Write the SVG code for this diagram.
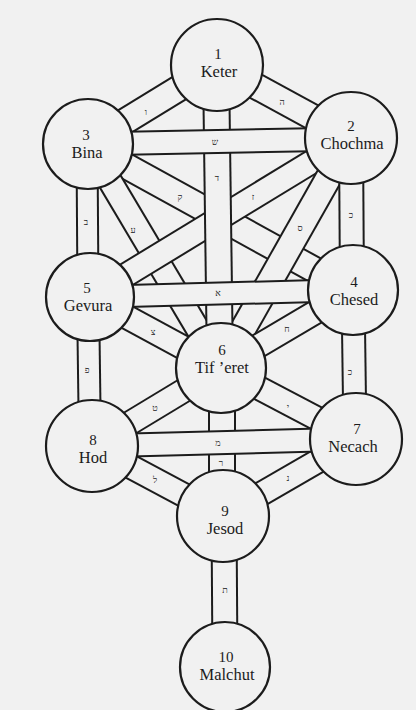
<svg xmlns="http://www.w3.org/2000/svg" width="416" height="710" viewBox="0 0 416 710">
<style>
.bg{fill:#f1f1f1}
.o{stroke:#1c1c1c;stroke-linecap:butt}
.i{stroke:#f1f1f1;stroke-linecap:butt}
.node circle{fill:#f1f1f1;stroke:#1c1c1c;stroke-width:2.2}
.node text{font-family:"Liberation Serif","Times New Roman",serif;fill:#1c1c1c;text-anchor:middle}
.num{font-size:15px}
.nm{font-size:16.5px}
.lb{font-family:"Liberation Serif","DejaVu Sans",serif;font-size:9px;fill:#222;text-anchor:middle}
</style>
<rect class="bg" x="0" y="0" width="416" height="710"/>
<g id="connectors">
  <g id="p-qof"><line class="o" x1="88" y1="145" x2="353" y2="291" stroke-width="28"/><line class="i" x1="88" y1="145" x2="353" y2="291" stroke-width="24"/></g>
  <g id="p-ayin"><line class="o" x1="88" y1="144" x2="221" y2="368" stroke-width="26"/><line class="i" x1="88" y1="144" x2="221" y2="368" stroke-width="22"/></g>
  <g id="p-zayin"><line class="o" x1="351" y1="138" x2="90" y2="297" stroke-width="26"/><line class="i" x1="351" y1="138" x2="90" y2="297" stroke-width="22"/></g>
  <g id="p-samekh"><line class="o" x1="351" y1="138" x2="221" y2="368" stroke-width="28"/><line class="i" x1="351" y1="138" x2="221" y2="368" stroke-width="24"/></g>
  <g id="p-dalet"><line class="o" x1="216" y1="65" x2="220" y2="368" stroke-width="28"/><line class="i" x1="216" y1="65" x2="220" y2="368" stroke-width="24"/></g>
  <g id="p-resh"><line class="o" x1="222" y1="368" x2="222" y2="516" stroke-width="28"/><line class="i" x1="222" y1="368" x2="222" y2="516" stroke-width="24"/></g>
  <g id="p-vav"><line class="o" x1="217" y1="65" x2="88" y2="144" stroke-width="28"/><line class="i" x1="217" y1="65" x2="88" y2="144" stroke-width="24"/></g>
  <g id="p-he"><line class="o" x1="217" y1="65" x2="351" y2="138" stroke-width="28"/><line class="i" x1="217" y1="65" x2="351" y2="138" stroke-width="24"/></g>
  <g id="p-bet"><line class="o" x1="87" y1="144" x2="88" y2="297" stroke-width="23"/><line class="i" x1="87" y1="144" x2="88" y2="297" stroke-width="19"/></g>
  <g id="p-kaf1"><line class="o" x1="351" y1="138" x2="352" y2="290" stroke-width="26"/><line class="i" x1="351" y1="138" x2="352" y2="290" stroke-width="22"/></g>
  <g id="p-tsadi"><line class="o" x1="90" y1="297" x2="221" y2="368" stroke-width="26"/><line class="i" x1="90" y1="297" x2="221" y2="368" stroke-width="22"/></g>
  <g id="p-het"><line class="o" x1="353" y1="290" x2="221" y2="368" stroke-width="26"/><line class="i" x1="353" y1="290" x2="221" y2="368" stroke-width="22"/></g>
  <g id="p-pe"><line class="o" x1="88" y1="297" x2="90" y2="446" stroke-width="24"/><line class="i" x1="88" y1="297" x2="90" y2="446" stroke-width="20"/></g>
  <g id="p-kaf2"><line class="o" x1="353" y1="290" x2="355" y2="439" stroke-width="25"/><line class="i" x1="353" y1="290" x2="355" y2="439" stroke-width="21"/></g>
  <g id="p-tet"><line class="o" x1="221" y1="368" x2="92" y2="446" stroke-width="26"/><line class="i" x1="221" y1="368" x2="92" y2="446" stroke-width="22"/></g>
  <g id="p-yod"><line class="o" x1="221" y1="368" x2="356" y2="439" stroke-width="26"/><line class="i" x1="221" y1="368" x2="356" y2="439" stroke-width="22"/></g>
  <g id="p-lamed"><line class="o" x1="92" y1="446" x2="223" y2="516" stroke-width="26"/><line class="i" x1="92" y1="446" x2="223" y2="516" stroke-width="22"/></g>
  <g id="p-nun"><line class="o" x1="356" y1="439" x2="223" y2="516" stroke-width="26"/><line class="i" x1="356" y1="439" x2="223" y2="516" stroke-width="22"/></g>
  <g id="p-tav"><line class="o" x1="224" y1="516" x2="225" y2="667" stroke-width="27"/><line class="i" x1="224" y1="516" x2="225" y2="667" stroke-width="23"/></g>
  <g id="p-shin"><line class="o" x1="88" y1="144" x2="351" y2="139" stroke-width="25"/><line class="i" x1="88" y1="144" x2="351" y2="139" stroke-width="21"/></g>
  <g id="p-alef"><line class="o" x1="90" y1="297" x2="353" y2="290" stroke-width="24"/><line class="i" x1="90" y1="297" x2="353" y2="290" stroke-width="20"/></g>
  <g id="p-mem"><line class="o" x1="92" y1="446" x2="356" y2="439" stroke-width="25"/><line class="i" x1="92" y1="446" x2="356" y2="439" stroke-width="21"/></g>
  <g id="labels">
    <text class="lb" x="146" y="115">ו</text>
    <text class="lb" x="282" y="105">ה</text>
    <text class="lb" x="215" y="145">ש</text>
    <text class="lb" x="217" y="181">ד</text>
    <text class="lb" x="180" y="200">ק</text>
    <text class="lb" x="253" y="200">ז</text>
    <text class="lb" x="86" y="225">ב</text>
    <text class="lb" x="133" y="233">ע</text>
    <text class="lb" x="300" y="231">ס</text>
    <text class="lb" x="351" y="218">כ</text>
    <text class="lb" x="218" y="296">א</text>
    <text class="lb" x="153" y="335">צ</text>
    <text class="lb" x="287" y="332">ח</text>
    <text class="lb" x="87" y="373">פ</text>
    <text class="lb" x="350" y="375">כ</text>
    <text class="lb" x="155" y="411">ט</text>
    <text class="lb" x="288" y="410">י</text>
    <text class="lb" x="218" y="446">מ</text>
    <text class="lb" x="221" y="466">ר</text>
    <text class="lb" x="155" y="483">ל</text>
    <text class="lb" x="288" y="481">נ</text>
    <text class="lb" x="225" y="593">ת</text>
  </g>
</g>
<g id="n1" class="node"><circle cx="217" cy="65" r="46"/><text class="num" x="218" y="58.5">1</text><text class="nm" x="219" y="77">Keter</text></g>
<g id="n2" class="node"><circle cx="351" cy="138" r="46"/><text class="num" x="351" y="130.5">2</text><text class="nm" x="352" y="149">Chochma</text></g>
<g id="n3" class="node"><circle cx="88" cy="144" r="45"/><text class="num" x="86" y="139.5">3</text><text class="nm" x="87" y="158">Bina</text></g>
<g id="n4" class="node"><circle cx="353" cy="290" r="45"/><text class="num" x="354" y="286.5">4</text><text class="nm" x="354" y="305">Chesed</text></g>
<g id="n5" class="node"><circle cx="90" cy="297" r="44"/><text class="num" x="87" y="292.5">5</text><text class="nm" x="88" y="311">Gevura</text></g>
<g id="n6" class="node"><circle cx="221" cy="368" r="45"/><text class="num" x="222" y="354.5">6</text><text class="nm" x="222" y="373">Tif ’eret</text></g>
<g id="n7" class="node"><circle cx="356" cy="439" r="46"/><text class="num" x="357" y="433.5">7</text><text class="nm" x="353" y="452">Necach</text></g>
<g id="n8" class="node"><circle cx="92" cy="446" r="46"/><text class="num" x="93" y="444.5">8</text><text class="nm" x="93" y="463">Hod</text></g>
<g id="n9" class="node"><circle cx="223" cy="516" r="46"/><text class="num" x="225" y="515.5">9</text><text class="nm" x="225" y="534">Jesod</text></g>
<g id="n10" class="node"><circle cx="225" cy="667" r="45"/><text class="num" x="226" y="661.5">10</text><text class="nm" x="227" y="680">Malchut</text></g>
</svg>
